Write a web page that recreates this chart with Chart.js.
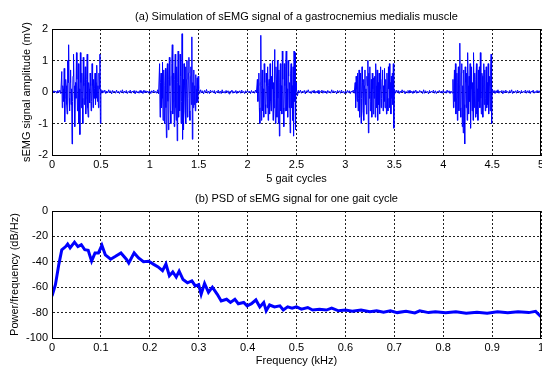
<!DOCTYPE html>
<html>
<head>
<meta charset="utf-8">
<script src="https://cdn.jsdelivr.net/npm/chart.js@4/dist/chart.umd.min.js"></script>
<style>
  html, body { margin: 0; padding: 0; background: #fff; }
  #wrap { position: relative; width: 542px; height: 369px; overflow: hidden; }
  canvas { position: absolute; left: 0; }
  #c1 { top: 0; }
  #c2 { top: 186px; }
</style>
</head>
<body>
<div id="wrap">
  <canvas id="c1" width="542" height="186"></canvas>
  <canvas id="c2" width="542" height="183"></canvas>
</div>
<script>
// ---------- DATA: (a) sEMG signal, mV ----------
const cycleStarts = [0, 1, 2, 3, 4];
const quietDt = 0.01;   // s between quiet samples
const burstDt = 0.005;  // s between burst samples
const burstOffset = 0.1;
const postOffset = 0.5;

const pre1 = [0.02,-0.03,0.04,-0.01,0.03,-0.04,0.05,-0.02,0.06,-0.05];
const burst1 = [0.65,-0.5,0.2,0.1,-0.3,0.75,-0.95,-0.2,0.4,0.2,
  -0.4,-0.7,1.0,0.3,1.5,-0.2,-0.6,0.3,0.7,-0.4,
  0.1,-1.65,-0.3,0.5,1.2,0.2,-0.5,-1.1,0.3,-0.2,
  1.25,0.4,-0.6,-0.2,0.9,-1.0,0.1,-1.35,1.25,0.3,
  -0.5,0.6,-0.2,-1.0,1.1,0.2,-0.4,0.3,0.8,-0.7,
  -0.2,0.4,1.2,-0.5,-0.8,0.3,0.1,-0.35,0.6,0.2,
  -0.6,-0.3,0.9,0.2,-0.5,0.4,-0.2,0.1,0.6,-0.4,
  0.3,-0.2,0.85,-0.3,0.2,-0.5,0.6,0.1,1.2,-1.0];
const post1 = [0.08,-0.04,0.05,-0.02,0.06,-0.05,0.03,-0.03,0.07,-0.02,0.04,-0.06,0.05,-0.01,0.03,-0.04,0.06,-0.03,0.02,-0.05,0.04,-0.02,0.07,-0.04,0.03,-0.03,0.05,-0.05,0.02,-0.02,0.06,-0.04,0.03,-0.01,0.05,-0.06,0.04,-0.03,0.02,-0.04,0.05,-0.02,0.03,-0.05,0.06,-0.03,0.04,-0.02,0.03,-0.04];

const pre2 = [0.03,-0.05,0.04,-0.02,0.06,-0.03,0.02,-0.04,0.07,-0.06];
const burst2 = [0.9,-0.8,0.3,0.6,-0.5,-0.2,0.95,-0.9,0.4,0.7,
  -1.0,0.2,0.75,-0.5,-1.45,0.6,0.9,-0.3,-1.2,0.4,
  1.1,0.2,-0.6,-1.0,0.5,0.9,1.5,-0.7,-0.3,0.6,
  -1.1,0.4,1.2,-0.5,-0.9,0.8,-1.55,0.3,1.3,-0.8,
  0.2,-0.6,1.2,0.5,-1.0,-0.3,1.85,-1.5,0.4,-1.2,
  0.9,0.2,-0.6,0.8,-1.0,0.4,1.0,-0.8,-0.2,0.6,
  1.1,-0.6,-0.9,0.5,0.8,-0.4,1.75,-1.5,0.3,-0.5,
  0.7,-0.4,0.2,-0.6,0.55,0.1,-0.35,0.45,-0.3,0.5];
const post2 = [0.1,-0.05,0.07,-0.03,0.04,-0.06,0.05,-0.02,0.08,-0.04,0.03,-0.05,0.06,-0.01,0.04,-0.03,0.05,-0.06,0.02,-0.02,0.06,-0.04,0.03,-0.05,0.07,-0.03,0.02,-0.04,0.05,-0.02,0.04,-0.06,0.03,-0.01,0.06,-0.04,0.02,-0.03,0.05,-0.05,0.03,-0.02,0.04,-0.04,0.06,-0.03,0.02,-0.05,0.04,-0.02];

const pre3 = [0.04,-0.02,0.03,-0.05,0.05,-0.03,0.02,-0.04,0.06,-0.03];
const burst3 = [0.4,-0.3,0.2,0.6,-0.5,-1.0,0.3,1.8,-0.9,0.2,
  0.7,-0.6,0.1,-0.8,0.9,0.3,-0.4,-0.7,0.6,0.2,
  -0.5,0.8,-0.9,0.2,0.4,-0.7,0.9,-0.3,-0.6,0.5,
  0.1,1.0,-0.9,0.3,-0.5,1.35,-0.2,-1.0,0.8,0.4,
  -0.8,1.0,-0.2,-1.0,0.7,-1.4,0.3,0.9,-0.6,0.2,
  -0.7,1.3,0.4,-0.5,-1.1,0.9,0.2,-0.6,0.8,1.3,
  -0.6,0.1,-0.8,1.0,0.5,-0.5,0.3,-1.3,0.6,0.9,
  -0.5,0.2,-0.9,0.8,-1.4,1.3,-0.3,1.25,-1.2,0.3];
const post3 = [0.07,-0.12,0.05,-0.03,0.06,-0.04,0.03,-0.02,0.05,-0.06,0.04,-0.01,0.07,-0.03,0.02,-0.05,0.04,-0.02,0.06,-0.04,0.03,-0.03,0.05,-0.05,0.02,-0.01,0.06,-0.04,0.04,-0.03,0.03,-0.05,0.05,-0.02,0.02,-0.04,0.07,-0.03,0.04,-0.02,0.03,-0.06,0.05,-0.01,0.04,-0.04,0.06,-0.03,0.02,-0.05];

const pre4 = [0.03,-0.04,0.05,-0.02,0.04,-0.05,0.03,-0.01,0.06,-0.04];
const burst4 = [0.3,-0.5,0.5,0.1,-0.3,0.6,-0.6,-0.2,0.7,-0.8,
  0.4,0.6,-1.0,-0.2,0.8,0.3,-0.6,0.4,-0.9,0.2,
  0.7,-0.4,0.1,-0.7,0.5,0.2,1.0,-1.3,0.6,-0.2,
  0.8,-0.6,-0.3,0.4,-0.8,0.6,0.1,-0.7,0.45,-0.2,
  0.5,-0.8,0.9,0.2,-0.5,0.7,-0.9,0.3,-0.4,0.6,
  -0.7,0.1,0.8,-0.5,-0.2,0.4,0.7,-0.6,0.2,-0.3,
  0.75,-0.5,0.2,0.4,-0.7,0.6,-0.2,-0.6,0.8,0.1,
  0.9,-0.5,0.3,-0.7,0.5,-0.2,0.6,-0.4,0.9,-1.15];
const post4 = [0.09,-0.04,0.06,-0.02,0.05,-0.05,0.03,-0.03,0.07,-0.01,0.04,-0.06,0.02,-0.02,0.05,-0.04,0.06,-0.03,0.03,-0.05,0.04,-0.02,0.06,-0.04,0.02,-0.03,0.05,-0.01,0.03,-0.05,0.07,-0.04,0.04,-0.02,0.02,-0.06,0.05,-0.03,0.03,-0.02,0.06,-0.04,0.04,-0.05,0.02,-0.01,0.05,-0.03,0.03,-0.04];

const pre5 = [0.05,-0.03,0.02,-0.04,0.06,-0.02,0.04,-0.05,0.03,-0.03];
const burst5 = [0.4,-0.5,0.1,0.7,-0.3,0.9,-0.7,-0.2,0.6,-0.9,
  0.3,0.8,-0.6,0.2,1.55,-0.5,-0.8,0.6,0.9,-1.1,
  0.2,-1.3,0.7,-0.4,-1.65,0.8,0.3,-0.5,0.6,-0.9,
  1.25,0.2,-0.7,0.5,-0.3,0.9,-1.15,0.1,0.8,-0.6,
  0.3,-0.9,1.25,0.2,-0.5,0.6,-0.8,0.4,0.9,-0.7,
  0.1,-0.9,0.7,-0.3,0.8,-0.5,1.25,-0.2,-0.7,0.6,
  0.5,-0.8,0.2,0.9,-0.4,0.7,-0.6,-0.2,0.8,-0.5,
  0.3,-0.4,0.9,-0.7,0.2,0.5,-0.6,0.7,1.2,-1.0];
const post5 = [0.08,-0.03,0.05,-0.05,0.04,-0.02,0.07,-0.04,0.03,-0.01,0.05,-0.06,0.04,-0.03,0.06,-0.02,0.02,-0.04,0.05,-0.03,0.07,-0.05,0.03,-0.02,0.04,-0.04,0.06,-0.01,0.03,-0.05,0.05,-0.03,0.02,-0.02,0.06,-0.04,0.04,-0.03,0.05,-0.05,0.03,-0.01,0.06,-0.04,0.02,-0.03,0.05,-0.02,0.04,-0.03];

const preQuiet = [pre1, pre2, pre3, pre4, pre5];
const bursts = [burst1, burst2, burst3, burst4, burst5];
const postQuiet = [post1, post2, post3, post4, post5];

// ---------- DATA: (b) PSD ----------
const psdFreq = [0,0.007,0.014,0.02,0.028,0.032,0.037,0.046,0.053,0.06,0.067,0.074,0.081,0.088,0.095,0.102,0.109,0.12,0.13,0.141,0.152,0.157,0.168,0.177,0.187,0.198,0.208,0.217,0.226,0.233,0.24,0.247,0.254,0.26,0.268,0.277,0.286,0.293,0.3,0.305,0.312,0.32,0.328,0.338,0.346,0.357,0.365,0.374,0.381,0.392,0.399,0.408,0.417,0.425,0.433,0.438,0.445,0.455,0.466,0.473,0.482,0.491,0.5,0.51,0.523,0.533,0.547,0.561,0.572,0.586,0.6,0.614,0.632,0.65,0.664,0.678,0.692,0.706,0.724,0.742,0.752,0.77,0.784,0.805,0.826,0.847,0.869,0.89,0.911,0.932,0.953,0.975,0.989,1.0];
const psdPower = [-67,-58,-42,-30.5,-28,-26,-29,-24.5,-28,-26.5,-30.5,-31,-39.5,-33,-33,-27,-34.5,-38,-35.7,-33,-38,-41,-33,-37,-40,-39.6,-42,-44,-47,-41.7,-51,-48,-52,-47.4,-54,-56.5,-55,-59,-58,-65.6,-57,-64,-60,-65.6,-70.8,-69.5,-72,-69.5,-73,-72,-74.7,-73,-70,-75.5,-72,-78.6,-74,-75.5,-74.7,-78,-75.5,-76.5,-75.5,-77.3,-76,-78,-77.3,-78,-76.5,-78.6,-78,-79,-78,-79.4,-78.6,-79.7,-78.6,-80,-79,-80.2,-78.6,-80,-79.4,-80.2,-79.4,-80.5,-79.7,-80.5,-79.4,-80.2,-79.4,-80,-79,-83.3];

// ---------- tick settings ----------
const sigXTicks = { min: 0, max: 5, step: 0.5 };
const sigYTicks = { min: -2, max: 2, step: 1 };
const psdXTicks = { min: 0, max: 1, step: 0.1 };
const psdYTicks = { min: -100, max: 0, step: 20 };

// ---------- build ----------
function buildSignal() {
  const pts = [];
  cycleStarts.forEach((c, k) => {
    preQuiet[k].forEach((v, i) => pts.push({ x: c + i * quietDt, y: v }));
    bursts[k].forEach((v, i) => pts.push({ x: c + burstOffset + i * burstDt, y: v }));
    postQuiet[k].forEach((v, i) => pts.push({ x: c + postOffset + i * quietDt, y: v }));
  });
  return pts;
}
const psdPts = psdFreq.map((f, i) => ({ x: f, y: psdPower[i] }));

const FONT = "'Liberation Sans', Arial, sans-serif";
const fmt = v => String(Math.round(v * 1000) / 1000);
const frame = {
  id: 'frame',
  afterDraw(chart) {
    const a = chart.chartArea, ctx = chart.ctx;
    ctx.save();
    ctx.strokeStyle = '#000';
    ctx.lineWidth = 1;
    ctx.strokeRect(Math.round(a.left) + 0.5, Math.round(a.top) + 0.5,
      Math.round(a.right) - Math.round(a.left) - 1, Math.round(a.bottom) - Math.round(a.top));
    ctx.restore();
  }
};

function makeChart(id, pts, lineW, t, xT, yT, xTitle, yTitle, opts) {
  return new Chart(document.getElementById(id), {
    type: 'line',
    data: { datasets: [{ data: pts, borderColor: '#0000ff', borderWidth: lineW,
      pointRadius: 0, tension: 0, fill: false }] },
    options: {
      responsive: false, animation: false, events: [],
      layout: { padding: { left: 0, right: 1, top: 0, bottom: 0 } },
      plugins: {
        legend: { display: false }, tooltip: { enabled: false },
        title: { display: true, text: t, color: '#000', fullSize: false,
          font: { family: FONT, size: 11, weight: 'normal' },
          padding: { top: opts.titleTop, bottom: 5.4 } }
      },
      scales: {
        x: {
          type: 'linear', min: xT.min, max: xT.max,
          ticks: { stepSize: xT.step, color: '#000', padding: 3, maxRotation: 0, autoSkip: false,
            font: { family: FONT, size: 11 }, callback: fmt },
          grid: { color: '#222', lineWidth: 1, drawTicks: false },
          border: { display: true, color: '#000', dash: [2, 2] },
          title: { display: true, text: xTitle, color: '#000',
            font: { family: FONT, size: 11 }, padding: { top: 0, bottom: opts.xTitleBottom } },
          afterFit(s) { s.height = opts.xHeight; s.paddingLeft = 0; s.paddingRight = 0; }
        },
        y: {
          min: yT.min, max: yT.max,
          ticks: { stepSize: yT.step, color: '#000', padding: 4,
            font: { family: FONT, size: 11 }, callback: fmt },
          grid: { color: '#222', lineWidth: 1, drawTicks: false },
          border: { display: true, color: '#000', dash: [2, 2] },
          title: { display: true, text: yTitle, color: '#000',
            font: { family: FONT, size: 11 }, padding: { top: opts.yTitlePad, bottom: 0 } },
          afterFit(s) { s.width = 52; s.paddingTop = 0; s.paddingBottom = 0; }
        }
      }
    },
    plugins: [frame]
  });
}

makeChart('c1', buildSignal(), 1, '(a) Simulation of sEMG signal of a gastrocnemius medialis muscle',
  sigXTicks, sigYTicks, '5 gait cycles', 'sEMG signal amplitude (mV)',
  { titleTop: 10.4, xHeight: 31, xTitleBottom: 0, yTitlePad: 20 });
makeChart('c2', psdPts, 3, '(b) PSD of sEMG signal for one gait cycle',
  psdXTicks, psdYTicks, 'Frequency (kHz)', 'Power/frequency (dB/Hz)',
  { titleTop: 6.4, xHeight: 31, xTitleBottom: 1.4, yTitlePad: 8 });
</script>
</body>
</html>
